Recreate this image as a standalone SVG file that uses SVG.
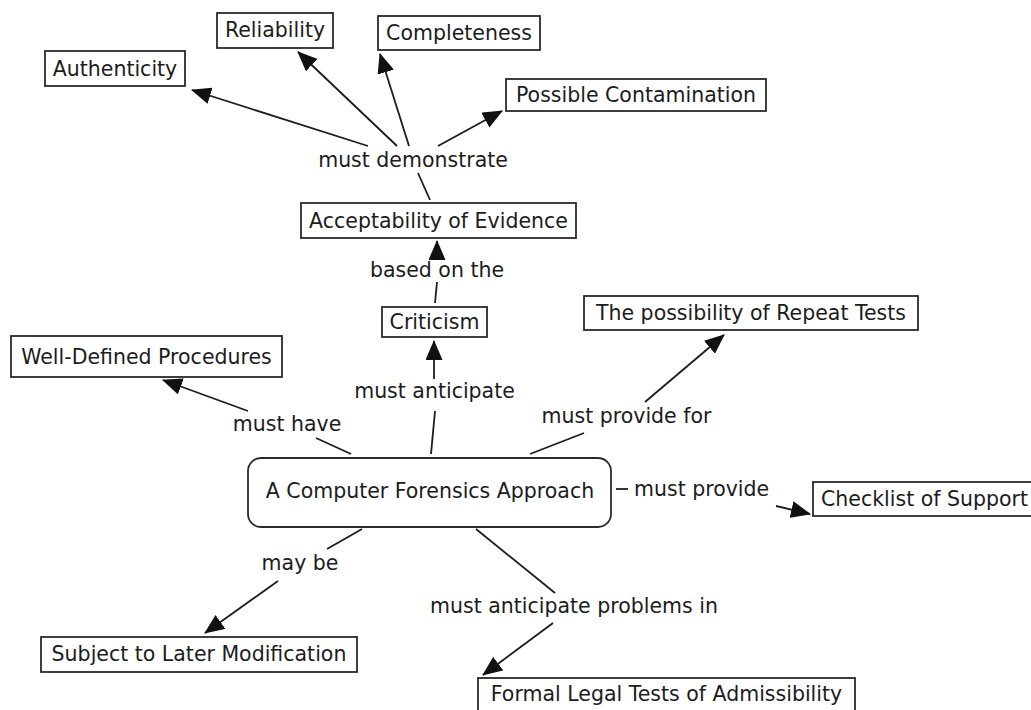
<svg xmlns="http://www.w3.org/2000/svg" width="1031" height="710" viewBox="0 0 1031 710">
  <style>
    .box { fill: #ffffff; stroke: #2a2a2a; stroke-width: 1.8; }
    .txt { font-family: "DejaVu Sans", Verdana, sans-serif; font-size: 20.5px; fill: #1c1c1c; }
    .mid { text-anchor: middle; }
    .link { stroke: #1c1c1c; stroke-width: 1.8; fill: none; }
    .arrow { marker-end: url(#head); }
  </style>
  <defs>
    <marker id="head" markerUnits="userSpaceOnUse" markerWidth="20" markerHeight="17" refX="19" refY="8.5" orient="auto">
      <path d="M0,0 L20,8.5 L0,17 Z" fill="#111111"/>
    </marker>
  </defs>
  <rect width="1031" height="710" fill="#ffffff"/>

  <!-- connectors: concept -> linking phrase -> concept -->
  <g id="connectors">
    <!-- must demonstrate -->
    <line class="link" x1="430" y1="200" x2="418" y2="173"/>
    <line class="link arrow" x1="368" y1="146" x2="192" y2="90"/>
    <line class="link arrow" x1="397" y1="146" x2="298" y2="52"/>
    <line class="link arrow" x1="409" y1="146" x2="380" y2="54"/>
    <line class="link arrow" x1="438" y1="146" x2="502" y2="111"/>
    <!-- based on the -->
    <line class="link" x1="435" y1="303" x2="437" y2="282"/>
    <line class="link arrow" x1="437" y1="260" x2="437" y2="241"/>
    <!-- must anticipate -->
    <line class="link" x1="431" y1="454" x2="435" y2="411"/>
    <line class="link arrow" x1="434" y1="379" x2="434" y2="341"/>
    <!-- must have -->
    <line class="link" x1="351" y1="454" x2="316" y2="438"/>
    <line class="link arrow" x1="248" y1="411" x2="163" y2="380"/>
    <!-- must provide for -->
    <line class="link" x1="530" y1="454" x2="584" y2="433"/>
    <line class="link arrow" x1="645" y1="402" x2="724" y2="335"/>
    <!-- must provide -->
    <line class="link" x1="616" y1="489" x2="628" y2="489"/>
    <line class="link arrow" x1="776" y1="506" x2="810" y2="514"/>
    <!-- may be -->
    <line class="link" x1="362" y1="529" x2="327" y2="549"/>
    <line class="link arrow" x1="278" y1="581" x2="205" y2="633"/>
    <!-- must anticipate problems in -->
    <line class="link" x1="476" y1="529" x2="555" y2="593"/>
    <line class="link arrow" x1="553" y1="623" x2="483" y2="675"/>

    <!-- linking phrases -->
    <text class="txt mid" x="413" y="167">must demonstrate</text>
    <text class="txt mid" x="437" y="277">based on the</text>
    <text class="txt mid" x="434.5" y="398">must anticipate</text>
    <text class="txt mid" x="287" y="431">must have</text>
    <text class="txt mid" x="626.5" y="423">must provide for</text>
    <text class="txt" x="634" y="496">must provide</text>
    <text class="txt mid" x="300" y="570">may be</text>
    <text class="txt mid" x="574" y="613">must anticipate problems in</text>
  </g>

  <!-- concepts -->
  <g id="node-authenticity">
    <rect class="box" x="45" y="51" width="140" height="35"/>
    <text class="txt mid" x="115" y="76">Authenticity</text>
  </g>
  <g id="node-reliability">
    <rect class="box" x="217" y="13" width="116" height="35"/>
    <text class="txt mid" x="275" y="37">Reliability</text>
  </g>
  <g id="node-completeness">
    <rect class="box" x="378" y="16" width="162" height="34"/>
    <text class="txt mid" x="459" y="40">Completeness</text>
  </g>
  <g id="node-contamination">
    <rect class="box" x="506" y="79" width="260" height="32"/>
    <text class="txt mid" x="636" y="102">Possible Contamination</text>
  </g>
  <g id="node-acceptability">
    <rect class="box" x="301" y="203" width="275" height="35"/>
    <text class="txt mid" x="438.5" y="228">Acceptability of Evidence</text>
  </g>
  <g id="node-criticism">
    <rect class="box" x="382" y="307" width="105" height="30"/>
    <text class="txt mid" x="434.5" y="329">Criticism</text>
  </g>
  <g id="node-procedures">
    <rect class="box" x="11" y="336" width="271" height="41"/>
    <text class="txt mid" x="146.5" y="364">Well-Defined Procedures</text>
  </g>
  <g id="node-repeat-tests">
    <rect class="box" x="584" y="296" width="334" height="34"/>
    <text class="txt mid" x="751" y="320">The possibility of Repeat Tests</text>
  </g>
  <g id="node-approach">
    <rect class="box" x="248" y="458" width="363" height="69" rx="13" ry="13"/>
    <text class="txt mid" x="430" y="498">A Computer Forensics Approach</text>
  </g>
  <g id="node-checklist">
    <rect class="box" x="813" y="482" width="230" height="34"/>
    <text class="txt" x="821" y="506">Checklist of Support</text>
  </g>
  <g id="node-modification">
    <rect class="box" x="41" y="637" width="316" height="35"/>
    <text class="txt mid" x="199" y="661">Subject to Later Modification</text>
  </g>
  <g id="node-admissibility">
    <rect class="box" x="478" y="678" width="377" height="40"/>
    <text class="txt mid" x="666.5" y="701">Formal Legal Tests of Admissibility</text>
  </g>
</svg>
